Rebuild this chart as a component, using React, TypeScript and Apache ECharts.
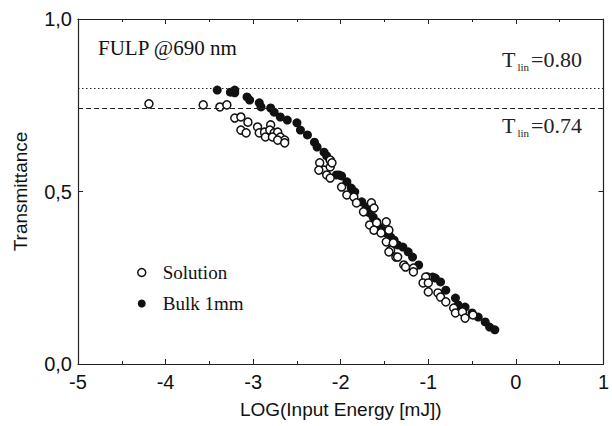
import React, { useEffect, useRef } from "react";
import * as echarts from "echarts";

const solutionX = [-4.19, -3.57, -3.38, -3.30, -3.21, -3.14, -3.06, -3.14, -3.08, -2.95, -2.93, -2.87, -2.86, -2.80, -2.81, -2.76, -2.72, -2.78, -2.69, -2.64, -2.72, -2.64, -2.24, -2.19, -2.12, -2.12, -2.25, -2.10, -2.16, -2.12, -1.99, -1.93, -1.85, -1.82, -1.74, -1.65, -1.62, -1.67, -1.59, -1.62, -1.48, -1.45, -1.48, -1.43, -1.37, -1.28, -1.17, -1.01, -1.40, -1.54, -1.45, -1.35, -1.26, -1.17, -1.03, -1.06, -1.00, -1.00, -0.89, -0.86, -0.80, -0.71, -0.69, -0.61, -0.58, -0.49];
const solutionY = [0.754, 0.751, 0.745, 0.751, 0.713, 0.716, 0.701, 0.678, 0.670, 0.687, 0.670, 0.672, 0.658, 0.693, 0.678, 0.670, 0.672, 0.658, 0.658, 0.649, 0.649, 0.641, 0.583, 0.562, 0.591, 0.571, 0.562, 0.583, 0.548, 0.539, 0.513, 0.490, 0.484, 0.467, 0.441, 0.467, 0.452, 0.403, 0.409, 0.388, 0.412, 0.388, 0.354, 0.330, 0.310, 0.287, 0.278, 0.252, 0.351, 0.380, 0.325, 0.310, 0.281, 0.267, 0.252, 0.235, 0.235, 0.209, 0.206, 0.194, 0.180, 0.162, 0.148, 0.151, 0.133, 0.142];

const bulkX = [-3.41, -3.21, -3.21, -3.26, -3.07, -3.04, -2.93, -2.91, -2.80, -2.76, -2.69, -2.61, -2.50, -2.46, -2.38, -2.30, -2.27, -2.19, -2.16, -2.12, -2.05, -2.02, -1.99, -1.93, -1.88, -1.84, -1.76, -1.71, -1.67, -1.63, -1.59, -1.56, -1.52, -1.48, -1.43, -1.39, -1.35, -1.29, -1.23, -1.18, -1.11, -0.95, -0.92, -0.86, -0.80, -0.69, -0.66, -0.58, -0.50, -0.43, -0.35, -0.30, -0.24];
const bulkY = [0.794, 0.794, 0.786, 0.788, 0.774, 0.765, 0.757, 0.745, 0.742, 0.730, 0.716, 0.707, 0.699, 0.678, 0.664, 0.643, 0.629, 0.614, 0.603, 0.590, 0.548, 0.548, 0.545, 0.528, 0.510, 0.499, 0.470, 0.455, 0.438, 0.426, 0.412, 0.397, 0.388, 0.380, 0.368, 0.359, 0.345, 0.339, 0.325, 0.310, 0.287, 0.252, 0.249, 0.238, 0.214, 0.191, 0.171, 0.165, 0.148, 0.136, 0.122, 0.107, 0.099];

const xTicks = [-5, -4, -3, -2, -1, 0, 1];
const yTickLabels: Record<string, string> = { "0": "0,0", "0.5": "0,5", "1": "1,0" };
const tLinDotted = 0.80;
const tLinDashed = 0.74;

const SANS = "'Liberation Sans', Arial, sans-serif";
const SERIF = "'Liberation Serif', 'Times New Roman', serif";

export default function App() {
  const ref = useRef<HTMLDivElement>(null);
  useEffect(() => {
    if (!ref.current) return;
    const chart = echarts.init(ref.current, undefined, { renderer: "svg" });
    const solution = solutionX.map((x, i) => [x, solutionY[i]]);
    const bulk = bulkX.map((x, i) => [x, bulkY[i]]);
    const axisLine = { show: true, onZero: false, lineStyle: { color: "#222", width: 1.2 } };
    const tick = { inside: true, length: 5, lineStyle: { color: "#222" } };
    const rich = {
      t: { fontFamily: SERIF, fontSize: 22, fill: "#222" },
      s: { fontFamily: SERIF, fontSize: 11, fill: "#222", padding: [16, 2, 0, 2] },
    };
    chart.setOption({
      animation: false,
      backgroundColor: "#fff",
      grid: { left: 78, top: 19, right: 3, bottom: 62, containLabel: false },
      xAxis: [
        {
          type: "value",
          min: xTicks[0],
          max: xTicks[xTicks.length - 1],
          interval: 1,
          name: "LOG(Input Energy [mJ])",
          nameLocation: "middle",
          nameGap: 36,
          nameTextStyle: { fontFamily: SANS, fontSize: 19, color: "#111" },
          axisLine,
          axisTick: tick,
          minorTick: { show: true, splitNumber: 2, length: 3, lineStyle: { color: "#222" } },
          splitLine: { show: false },
          axisLabel: { fontFamily: SANS, fontSize: 20, color: "#111", margin: 8, formatter: (v: number) => String(v) },
        },
        {
          type: "value",
          position: "top",
          min: xTicks[0],
          max: xTicks[xTicks.length - 1],
          interval: 1,
          axisLine,
          axisTick: tick,
          minorTick: { show: true, splitNumber: 2, length: 3, lineStyle: { color: "#222" } },
          splitLine: { show: false },
          axisLabel: { show: false },
        },
      ],
      yAxis: [
        {
          type: "value",
          min: 0,
          max: 1,
          interval: 0.5,
          name: "Transmittance",
          nameLocation: "middle",
          nameGap: 48,
          nameTextStyle: { fontFamily: SANS, fontSize: 19, color: "#111" },
          axisLine,
          axisTick: tick,
          splitLine: { show: false },
          axisLabel: {
            fontFamily: SANS,
            fontSize: 20,
            color: "#111",
            margin: 6,
            formatter: (v: number) => yTickLabels[String(v)] ?? String(v),
          },
        },
        {
          type: "value",
          position: "right",
          min: 0,
          max: 1,
          interval: 0.5,
          axisLine,
          axisTick: tick,
          splitLine: { show: false },
          axisLabel: { show: false },
        },
      ],
      legend: {
        orient: "vertical",
        left: 132,
        top: 258,
        itemGap: 12,
        itemWidth: 8,
        itemHeight: 8,
        textStyle: { fontFamily: SERIF, fontSize: 19, color: "#111", padding: [0, 0, 0, 12] },
        data: [
          { name: "Solution", icon: "circle", itemStyle: { color: "#fff", borderColor: "#111", borderWidth: 1.5 } },
          { name: "Bulk 1mm", icon: "circle", itemStyle: { color: "#111" } },
        ],
      },
      series: [
        {
          name: "Bulk 1mm",
          type: "scatter",
          data: bulk,
          symbol: "circle",
          symbolSize: 9,
          itemStyle: { color: "#111", opacity: 1 },
          z: 2,
          markLine: {
            silent: true,
            symbol: "none",
            label: { show: false },
            data: [
              { yAxis: tLinDotted, lineStyle: { type: [1.5, 2.5], color: "#222", width: 1.2 } },
              { yAxis: tLinDashed, lineStyle: { type: [5, 3], color: "#222", width: 1.2 } },
            ],
          },
        },
        {
          name: "Solution",
          type: "scatter",
          data: solution,
          symbol: "circle",
          symbolSize: 8,
          itemStyle: { color: "#fff", borderColor: "#111", borderWidth: 1.5, opacity: 1 },
          z: 3,
        },
      ],
      graphic: [
        {
          type: "text",
          left: 98,
          top: 37,
          style: { text: "FULP @690 nm", fontFamily: SERIF, fontSize: 21, fill: "#111" },
        },
        {
          type: "text",
          left: 502,
          top: 48,
          style: { text: "{t|T}{s|lin}{t|=0.80}", rich },
        },
        {
          type: "text",
          left: 502,
          top: 114,
          style: { text: "{t|T}{s|lin}{t|=0.74}", rich },
        },
      ],
    });
    return () => chart.dispose();
  }, []);
  return <div ref={ref} style={{ width: 612, height: 426, position: "absolute", left: 0, top: 0 }} />;
}
